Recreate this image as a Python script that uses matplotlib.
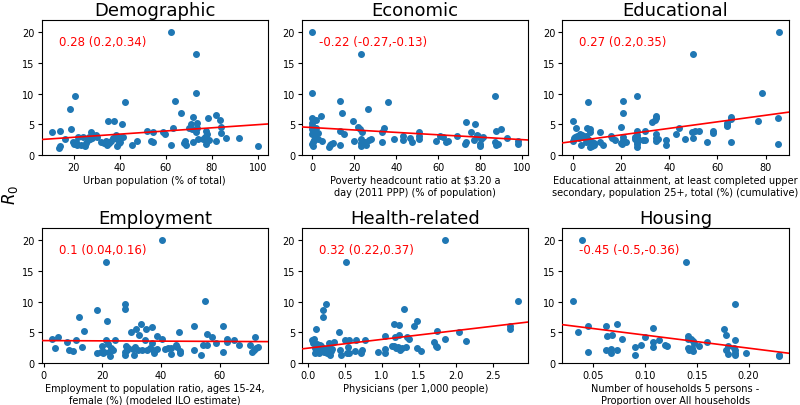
import numpy as np
import matplotlib
matplotlib.use("Agg")
import matplotlib.pyplot as plt

titles = ["Demographic", "Economic", "Educational", "Employment", "Health-related", "Housing"]
xlabels = [
    "Urban population (% of total)",
    "Poverty headcount ratio at \\$3.20 a\nday (2011 PPP) (% of population)",
    "Educational attainment, at least completed upper\nsecondary, population 25+, total (%) (cumulative)",
    "Employment to population ratio, ages 15-24,\nfemale (%) (modeled ILO estimate)",
    "Physicians (per 1,000 people)",
    "Number of households 5 persons -\nProportion over All households",
]
annotations = ["0.28 (0.2,0.34)", "-0.22 (-0.27,-0.13)", "0.27 (0.2,0.35)",
               "0.1 (0.04,0.16)", "0.32 (0.22,0.37)", "-0.45 (-0.5,-0.36)"]

# fitted lines
line_intercept = [2.40, 4.50, 2.23, 3.68, 2.44, 6.70]
line_slope = [0.0257, -0.0197, 0.0534, -0.0022, 1.43, -21.25]

demo_x = [10.5, 13.5, 14, 14, 16, 18.5, 19, 19.5, 20, 20.5, 21, 21.5, 22, 23, 24,
          25, 25.5, 26, 26.5, 27, 27.5, 28, 29.5, 30, 32, 33, 34, 34.5, 35, 35.5,
          36, 37, 37.5, 38.5, 39, 39.5, 39, 40, 40.5, 41, 41.5, 42.5, 45.5, 47.5,
          52, 53.5, 54.5, 54.5, 59, 59.5, 62.5, 62.5, 63, 64, 66.5, 68, 68.5, 69,
          70, 71, 71.5, 72, 72, 73, 73, 73, 73.5, 73.5, 74, 76, 77, 77.5, 77.5, 78,
          78, 78.5, 79, 82, 82, 83.5, 84, 84, 86, 92, 100]
demo_y = [3.8, 1.2, 1.5, 3.9, 2.7, 7.6, 4.3, 2.2, 1.8, 9.7, 2.2, 1.7, 3.0, 1.7, 3.0,
          1.5, 2.0, 2.5, 3.0, 2.6, 3.8, 2.8, 3.3, 3.0, 2.2, 2.0, 2.3, 1.7, 5.5, 2.0,
          2.3, 2.8, 5.6, 3.3, 1.5, 2.0, 2.6, 2.2, 3.0, 5.0, 2.9, 8.6, 1.6, 2.3,
          4.0, 2.3, 2.1, 3.7, 3.8, 3.5, 20.0, 1.7, 4.4, 8.9, 6.8, 2.0, 2.3, 1.6,
          4.5, 5.0, 4.3, 6.2, 2.2, 16.5, 10.2, 3.8, 5.3, 4.5, 2.6, 2.6, 3.0, 4.0, 1.9, 3.5,
          2.3, 6.1, 2.5, 6.5, 2.3, 5.8, 4.6, 3.6, 2.8, 2.8, 1.5]

econ_x = [0, 0, 0, 0.5, 0, 0, 0, 0.5, 0, 0.5, 0, 0.5, 1, 1.5, 2, 2, 2.5, 2.5, 4, 4.5,
          8, 8.5, 9, 10, 13, 13, 13, 14, 15, 19.5, 20, 22, 22.5, 23, 23, 23, 23.5, 23,
          25, 25.5, 26.5, 27, 28, 33, 33, 34, 36, 39, 43, 43, 46.5, 47.5, 51, 51, 51,
          59, 61, 62, 63.5, 64.5, 69, 72.5, 73, 73, 75.5, 77, 77.5, 78.5, 79, 80, 80,
          80.5, 81.5, 87, 87.5, 87, 87.5, 88.5, 90, 92.5, 98, 98]
econ_y = [20.0, 10.2, 6.1, 5.8, 5.3, 4.7, 4.3, 3.8, 3.5, 2.1, 1.8, 1.5, 2.4, 3.2, 4.4, 5.8, 3.6, 2.6, 6.4, 2.3,
          1.4, 1.6, 1.8, 2.0, 8.9, 4.0, 1.6, 6.8, 3.5, 5.6, 2.3, 4.6, 4.2, 16.5, 2.7, 1.5, 3.8, 2.0,
          2.2, 1.7, 7.6, 2.5, 2.6, 2.2, 3.7, 4.5, 8.6, 2.7, 2.4, 3.1, 2.8, 2.2, 3.7, 3.2, 2.7,
          2.3, 3.1, 2.9, 2.1, 2.3, 3.2, 1.9, 5.4, 2.2, 3.8, 2.5, 5.0, 3.3, 3.1, 1.9, 1.5,
          2.6, 2.9, 9.7, 3.9, 2.1, 1.7, 1.8, 4.3, 2.8, 2.3, 1.9]

edu_x = [0, 0, 0.5, 1, 1.5, 2, 2.5, 3, 3.5, 4, 4.5, 5, 5.5, 5.5, 6, 6.5, 6.5, 7, 7, 7,
         7.5, 8, 8, 9, 9, 11.5, 11.5, 12.5, 16, 16.5, 17.5, 20, 20, 20.5, 21, 21, 21, 21,
         22, 26, 26, 26.5, 26.5, 26.5, 26.5, 26.5, 26.5, 27, 29, 30, 30, 33, 34, 34.5,
         34.5, 34.5, 34.5, 34.5, 35.5, 38.5, 38.5, 43, 44, 46.5, 49.5, 50, 50, 50.5,
         52.5, 55.5, 58, 58, 64, 64, 64, 65.5, 65.5, 65.5, 77, 78.5, 85, 85, 85.3]
edu_y = [5.6, 2.3, 2.8, 3.0, 4.4, 3.2, 2.8, 3.4, 1.6, 3.3, 2.9, 2.9, 3.1, 2.2, 4.5, 8.6, 2.6, 4.3, 1.3, 3.8,
         1.8, 2.2, 1.5, 2.0, 1.7, 3.7, 2.1, 1.7, 3.2, 2.8, 2.4, 4.6, 2.0, 1.8, 8.9, 6.8, 2.5, 3.0,
         2.1, 2.9, 2.6, 9.7, 3.9, 3.3, 2.2, 1.8, 1.4, 2.6, 2.5, 4.0, 2.5, 5.4, 5.8, 6.4,
         6.0, 3.4, 2.8, 2.3, 2.6, 2.4, 1.6, 3.5, 4.4, 2.6, 3.8, 16.5, 2.8, 3.9,
         4.0, 2.1, 3.9, 3.6, 5.2, 4.7, 4.9, 6.2, 5.9, 2.1, 5.5, 10.2, 6.1, 1.8, 20.0]

emp_x = [2.8, 3.7, 4.8, 7.8, 8.8, 10.1, 10.9, 12.0, 13.2, 13.9, 18.2, 18.2, 19.5, 20.0,
         20.1, 20.6, 21.3, 21.5, 21.4, 22.0, 22.3, 22.7, 23.0, 23.5, 24.4, 27.6, 27.6,
         27.6, 27.6, 28.0, 28.3, 28.8, 29.7, 30.3, 30.7, 31.0, 31.4, 32.3, 32.5, 33.2,
         33.7, 34.5, 34.8, 35.1, 36.2, 36.8, 36.8, 37.3, 37.6, 38.7, 38.8, 40.4, 40.5,
         41.3, 42.4, 43.4, 43.4, 45.2, 45.6, 46.2, 46.4, 46.4, 51.1, 51.2, 53.7, 54.3,
         54.9, 55.6, 55.7, 57.5, 58.8, 61.1, 61.2, 62.4, 62.4, 65.0, 66.6, 70.5, 71.1,
         71.7, 72.0, 72.4, 73.0]
emp_y = [4.0, 2.4, 4.3, 3.5, 2.2, 2.0, 3.7, 7.6, 2.7, 5.3, 8.6, 1.7, 1.8, 2.8,
         1.6, 1.8, 16.5, 6.8, 3.8, 3.2, 1.8, 1.1, 2.5, 2.2, 3.8, 9.7, 8.9,
         1.8, 1.4, 2.8, 2.1, 2.4, 5.0, 2.3, 1.4, 2.7, 5.6, 2.2, 4.6, 6.4,
         2.1, 3.8, 5.5, 2.1, 2.5, 5.9, 3.3, 2.2, 1.6, 4.4, 2.3, 20.0, 3.9,
         2.3, 2.5, 2.4, 1.5, 3.0, 2.6, 5.1, 2.0, 1.7, 6.1, 2.1, 1.4, 2.9,
         10.1, 2.9, 4.7, 4.3, 3.3, 6.1, 1.8, 4.0, 3.5, 3.8, 3.0, 3.0, 1.8,
         2.2, 4.3, 2.4, 2.7]

health_x = [0.063, 0.072, 0.086, 0.095, 0.104, 0.118, 0.122, 0.131, 0.145, 0.158, 0.167,
            0.176, 0.186, 0.199, 0.213, 0.213, 0.213, 0.222, 0.249, 0.249, 0.267, 0.285,
            0.29, 0.308, 0.312, 0.335, 0.362, 0.421, 0.443, 0.452, 0.516, 0.511, 0.534,
            0.552, 0.561, 0.566, 0.638, 0.652, 0.719, 0.729, 0.774, 0.946, 1.045, 1.045,
            1.045, 1.136, 1.172, 1.172, 1.181, 1.199, 1.217, 1.24, 1.24, 1.244, 1.27,
            1.308, 1.33, 1.344, 1.376, 1.443, 1.475, 1.48, 1.534, 1.715, 1.729, 1.747,
            1.747, 1.851, 1.851, 2.05, 2.145, 2.733, 2.733, 2.846]
health_y = [3.8, 3.3, 4.0, 1.6, 2.5, 5.6, 2.0, 3.2, 2.4, 1.7, 3.0,
            2.3, 2.8, 2.1, 8.6, 7.6, 2.5, 1.8, 9.7, 2.3, 1.7, 3.3,
            2.4, 1.4, 2.0, 2.3, 3.5, 5.0, 2.2, 1.4, 16.5, 3.8, 1.6,
            2.7, 3.8, 1.7, 2.0, 3.7, 1.6, 2.2, 3.7, 1.8, 4.5, 2.3,
            1.6, 2.8, 6.4, 2.8, 4.3, 2.4, 2.6, 6.2, 4.6, 2.2, 2.5,
            8.9, 2.6, 4.3, 4.0, 6.0, 6.8, 2.5, 2.0, 3.4, 2.8, 5.3,
            2.7, 20.0, 4.0, 5.1, 3.6, 6.0, 5.5, 10.1]

house_x = [0.030, 0.0349, 0.0394, 0.0452, 0.0452, 0.0623, 0.0623, 0.0636, 0.0671, 0.0674,
           0.0684, 0.0732, 0.0732, 0.0774, 0.090, 0.090, 0.0964, 0.100, 0.108, 0.108,
           0.108, 0.1135, 0.119, 0.121, 0.140, 0.1418, 0.1415, 0.1415, 0.1428, 0.144,
           0.145, 0.146, 0.146, 0.147, 0.152, 0.160, 0.176, 0.178, 0.178, 0.180, 0.180,
           0.187, 0.187, 0.186, 0.187, 0.187, 0.187, 0.198, 0.229, 0.229]
house_y = [10.1, 5.1, 20.0, 6.1, 1.8, 6.1, 2.1, 4.4, 1.6, 2.3,
           4.6, 6.4, 2.2, 3.9, 2.7, 1.4, 3.0, 4.3, 5.8, 3.4,
           2.7, 3.7, 3.0, 2.8, 16.5, 4.4, 3.9, 2.4, 2.2, 4.0,
           2.5, 3.6, 2.0, 3.3, 2.8, 3.5, 5.5, 4.6, 2.2, 1.5, 2.8,
           9.7, 3.8, 2.5, 2.1, 1.7, 1.3, 1.6, 1.4, 1.1]

xs = [demo_x, econ_x, edu_x, emp_x, health_x, house_x]
ys = [demo_y, econ_y, edu_y, emp_y, health_y, house_y]

fig, axes = plt.subplots(2, 3, figsize=(8, 4.06), dpi=100)
plt.subplots_adjust(left=0.052, right=0.986, top=0.948, bottom=0.103,
                    wspace=0.15, hspace=0.54)

for i, ax in enumerate(axes.flat):
    ax.scatter(xs[i], ys[i], s=16, color="#1f77b4", zorder=2)
    ax.set_ylim(0, 22)
    lo, hi = ax.get_xlim()
    xx = np.array([lo, hi])
    ax.plot(xx, line_intercept[i] + line_slope[i] * xx, color="red", lw=1.2, zorder=3)
    ax.set_xlim(lo, hi)
    ax.set_title(titles[i], fontsize=13, pad=4)
    ax.set_xlabel(xlabels[i], fontsize=7, labelpad=2)
    ax.tick_params(labelsize=7, length=3, pad=2)
    ax.set_yticks([0, 5, 10, 15, 20])
    ax.text(0.075, 0.845, annotations[i], color="red", fontsize=8.5,
            transform=ax.transAxes, va="center", ha="left")

fig.text(0.012, 0.52, "$R_0$", rotation=90, fontsize=12, va="center", ha="center")

plt.savefig("out.png", dpi=100)
